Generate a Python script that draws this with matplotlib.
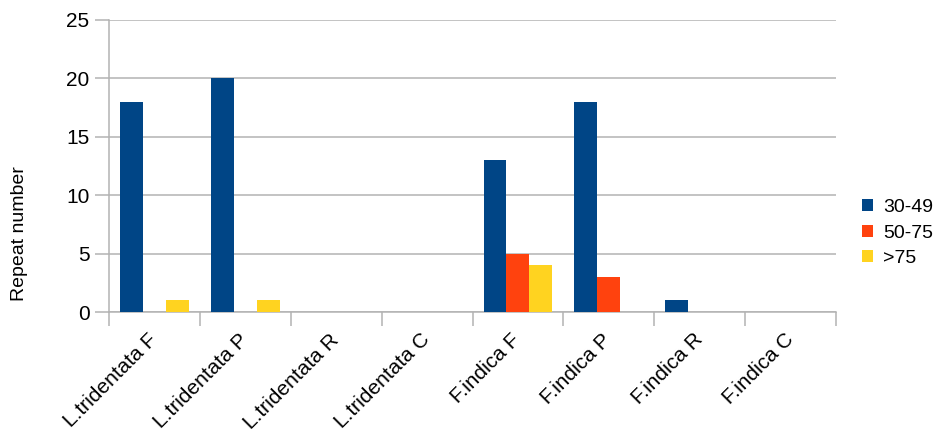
import matplotlib.pyplot as plt
import matplotlib.transforms as mtransforms
import numpy as np

plt.rcParams['font.family'] = ['Liberation Sans', 'DejaVu Sans']

categories = ['L.tridentata F', 'L.tridentata P', 'L.tridentata R', 'L.tridentata C',
              'F.indica F', 'F.indica P', 'F.indica R', 'F.indica C']
series_names = ['30-49', '50-75', '>75']
v_30_49 = [18, 20, 0, 0, 13, 18, 1, 0]
v_50_75 = [0, 0, 0, 0, 5, 3, 0, 0]
v_gt75 = [1, 1, 0, 0, 4, 0, 0, 0]
colors = ['#004586', '#ff420e', '#ffd320']

fig = plt.figure(figsize=(9.36, 4.29), dpi=100)
ax = fig.add_axes([0.1165, 0.2727, 0.7767, 0.6807])

x = np.arange(len(categories))
w = 69 / 91 / 3
for i, (vals, name) in enumerate(zip([v_30_49, v_50_75, v_gt75], series_names)):
    ax.bar(x + (i - 1) * w, vals, width=w, color=colors[i], label=name, zorder=3)

ax.set_xlim(-0.5, len(categories) - 0.5)
ax.set_ylim(0, 25)
ax.set_yticks(range(0, 26, 5))
ax.yaxis.grid(True, color='#b3b3b3', linewidth=1.1, zorder=0)

# category boundary ticks
ax.set_xticks(np.arange(-0.5, len(categories)), minor=False)
ax.set_xticklabels([])
ax.tick_params(axis='x', length=10, color='#b3b3b3', width=1.1)
ax.set_xticks(x, minor=True)
ax.set_xticklabels(categories, minor=True, rotation=45, ha='right',
                   rotation_mode='anchor', fontsize=15)
ax.tick_params(axis='x', which='minor', length=0, pad=13)
shift = mtransforms.ScaledTranslation(-7 / 100, 0, fig.dpi_scale_trans)
for lab in ax.get_xticklabels(minor=True):
    lab.set_transform(lab.get_transform() + shift)
ax.tick_params(axis='y', length=10, color='#b3b3b3', width=1.1, labelsize=15, pad=4)

for s in ['top', 'right']:
    ax.spines[s].set_visible(False)
for s in ['left', 'bottom']:
    ax.spines[s].set_color('#b3b3b3')
    ax.spines[s].set_linewidth(1.1)

fig.text(20 / 936, 1 - 234 / 429, 'Repeat number', rotation=90,
         ha='center', va='center', fontsize=14)

ax.legend(loc='center left', bbox_to_anchor=(862 / 936, 1 - 233 / 429),
          bbox_transform=fig.transFigure, frameon=False,
          fontsize=14, handlelength=0.57, handleheight=0.57, handletextpad=0.52,
          labelspacing=0.45, borderpad=0, borderaxespad=0)

fig.savefig('out.png', dpi=100)
